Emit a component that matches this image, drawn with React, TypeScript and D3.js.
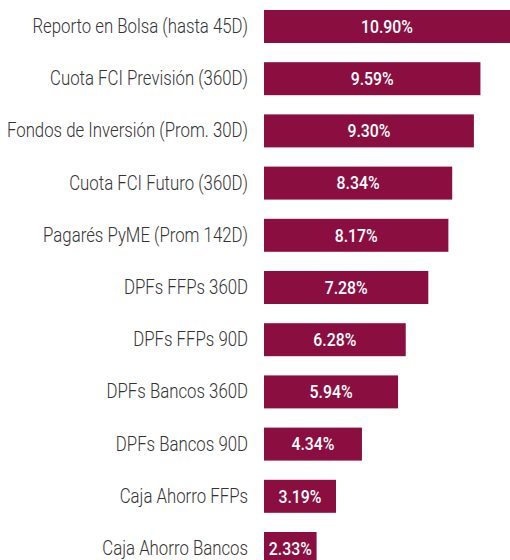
import React, { useEffect } from "react";
import * as d3 from "d3";

const categories = [
  "Reporto en Bolsa (hasta 45D)",
  "Cuota FCI Previsión (360D)",
  "Fondos de Inversión (Prom. 30D)",
  "Cuota FCI Futuro (360D)",
  "Pagarés PyME (Prom 142D)",
  "DPFs FFPs 360D",
  "DPFs FFPs 90D",
  "DPFs Bancos 360D",
  "DPFs Bancos 90D",
  "Caja Ahorro FFPs",
  "Caja Ahorro Bancos",
];
const rates = [10.9, 9.59, 9.3, 8.34, 8.17, 7.28, 6.28, 5.94, 4.34, 3.19, 2.33];

const width = 510;
const height = 560;

export default function App() {
  useEffect(() => {
    document.body.style.margin = "0";
  }, []);

  const x = d3.scaleLinear().domain([0, 10.9]).range([264, 510]);
  const y = d3
    .scaleBand<string>()
    .domain(categories)
    .range([10, 565])
    .paddingInner(0.368)
    .paddingOuter(0)
    .align(0);

  return (
    <svg width={width} height={height} style={{ display: "block", overflow: "hidden" }}>
      {categories.map((c, i) => {
        const y0 = y(c) as number;
        const cy = y0 + y.bandwidth() / 2;
        const x1 = x(rates[i]);
        return (
          <g key={c}>
            <text
              transform={`translate(248, ${cy}) scale(0.84, 1)`}
              textAnchor="end"
              dominantBaseline="central"
              fontFamily="Roboto"
              fontWeight={300}
              fontSize={20}
              fill="#333"
            >
              {c}
            </text>
            <rect x={x(0)} y={y0} width={x1 - x(0)} height={y.bandwidth()} fill="#8a0f40" />
            <text
              transform={`translate(${(x(0) + x1) / 2}, ${cy}) scale(0.88, 1)`}
              textAnchor="middle"
              dominantBaseline="central"
              fontFamily="Roboto"
              fontWeight={500}
              fontSize={18}
              fill="#fff"
            >
              {rates[i].toFixed(2) + "%"}
            </text>
          </g>
        );
      })}
    </svg>
  );
}
